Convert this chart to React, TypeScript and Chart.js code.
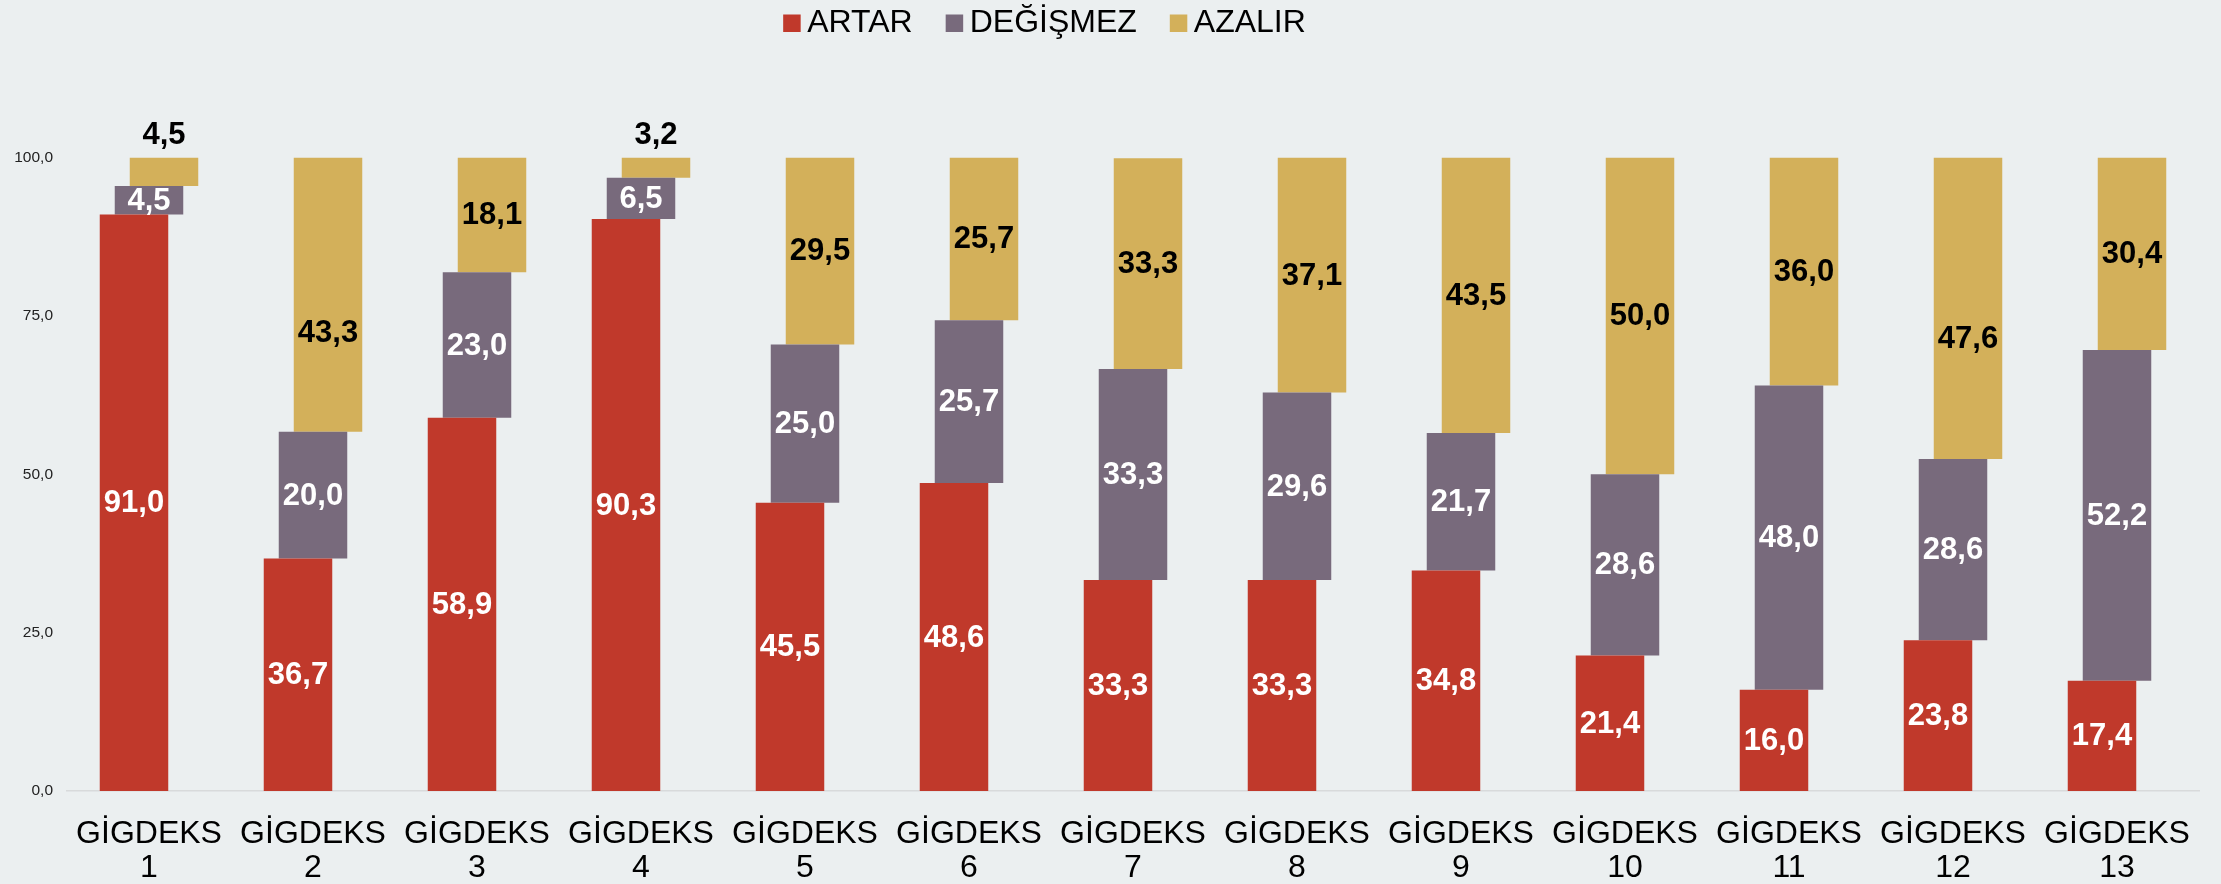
import React, { useEffect, useRef } from 'react';
import { Chart, registerables } from 'chart.js';

Chart.register(...registerables);

const categories = [
  'GİGDEKS 1', 'GİGDEKS 2', 'GİGDEKS 3', 'GİGDEKS 4', 'GİGDEKS 5', 'GİGDEKS 6', 'GİGDEKS 7',
  'GİGDEKS 8', 'GİGDEKS 9', 'GİGDEKS 10', 'GİGDEKS 11', 'GİGDEKS 12', 'GİGDEKS 13',
];
const artar = [91.0, 36.7, 58.9, 90.3, 45.5, 48.6, 33.3, 33.3, 34.8, 21.4, 16.0, 23.8, 17.4];
const degismez = [4.5, 20.0, 23.0, 6.5, 25.0, 25.7, 33.3, 29.6, 21.7, 28.6, 48.0, 28.6, 52.2];
const azalir = [4.5, 43.3, 18.1, 3.2, 29.5, 25.7, 33.3, 37.1, 43.5, 50.0, 36.0, 47.6, 30.4];
const seriesNames = ['ARTAR', 'DEĞİŞMEZ', 'AZALIR'];
const yTicks = [0, 25, 50, 75, 100];

// style: vertical nudge (px) of the AZALIR value labels, per category
const AZALIR_LABEL_NUDGE = [0, 38, 0, 0, 0, 0, 0, 0, 0, 0, 0, 30, 0];

const COLORS = ['#C0392B', '#786A7C', '#D3B05A'];
const LABEL_COLORS = ['#FFFFFF', '#FFFFFF', '#000000'];
const BG = '#EBEFF0';
const FONT = '"Liberation Sans", Arial, sans-serif';

const fmt = (v: number) => v.toFixed(1).replace('.', ',');

const bgPlugin = {
  id: 'bg',
  beforeDraw(chart: any) {
    const { ctx, width, height } = chart;
    ctx.save();
    ctx.fillStyle = BG;
    ctx.fillRect(0, 0, width, height);
    ctx.restore();
  },
};

const legendPlugin = {
  id: 'customLegend',
  afterDraw(chart: any) {
    const ctx = chart.ctx;
    ctx.save();
    ctx.font = `32px ${FONT}`;
    const box = 17.5;
    const gapBox = 6.5;
    const gapItem = 33;
    const items = chart.data.datasets.map((d: any) => ({
      label: d.label,
      color: d.backgroundColor,
      w: ctx.measureText(d.label).width,
    }));
    const total = items.reduce((s: number, it: any) => s + box + gapBox + it.w, 0) + gapItem * (items.length - 1);
    let x = 1044.5 - total / 2;
    const baseline = 32;
    items.forEach((it: any) => {
      ctx.fillStyle = it.color;
      ctx.fillRect(x, baseline - box, box, box);
      x += box + gapBox;
      ctx.fillStyle = '#000';
      ctx.textAlign = 'left';
      ctx.textBaseline = 'alphabetic';
      ctx.fillText(it.label, x, baseline);
      x += it.w + gapItem;
    });
    ctx.restore();
  },
};

const valueLists = [artar, degismez, azalir];

const labelPlugin = {
  id: 'barLabels',
  afterDatasetsDraw(chart: any) {
    const ctx = chart.ctx;
    ctx.save();
    ctx.font = `bold 31px ${FONT}`;
    ctx.textAlign = 'center';
    chart.data.datasets.forEach((ds: any, i: number) => {
      const meta = chart.getDatasetMeta(i);
      meta.data.forEach((el: any, j: number) => {
        const v = valueLists[i][j];
        const top = Math.min(el.y, el.base);
        const bottom = Math.max(el.y, el.base);
        ctx.fillStyle = LABEL_COLORS[i];
        if (ds.labelAboveIfSmall && bottom - top < 40) {
          ctx.fillStyle = '#000';
          ctx.textBaseline = 'alphabetic';
          ctx.fillText(fmt(v), el.x, top - 14);
        } else {
          const nudge = ds.labelAboveIfSmall ? AZALIR_LABEL_NUDGE[j] : 0;
          ctx.textBaseline = 'middle';
          ctx.fillText(fmt(v), el.x, (top + bottom) / 2 + 1 + nudge);
        }
      });
    });
    ctx.restore();
  },
};

export default function App() {
  const ref = useRef<HTMLCanvasElement>(null);

  useEffect(() => {
    if (!ref.current) return;
    const ranges0 = artar.map((v) => [0, v]);
    const ranges1 = artar.map((v, j) => [v, v + degismez[j]]);
    const ranges2 = artar.map((v, j) => [v + degismez[j], v + degismez[j] + azalir[j]]);
    const common = {
      categoryPercentage: 0.2744,
      barPercentage: 4.567,
      borderWidth: 0,
    };
    const chart = new Chart(ref.current, {
      type: 'bar',
      data: {
        labels: categories.map((c) => c.split(' ')),
        datasets: [
          { label: seriesNames[0], data: ranges0 as any, backgroundColor: COLORS[0], ...common },
          { label: seriesNames[1], data: ranges1 as any, backgroundColor: COLORS[1], ...common },
          { label: seriesNames[2], data: ranges2 as any, backgroundColor: COLORS[2], labelAboveIfSmall: true, ...common } as any,
        ],
      },
      options: {
        responsive: false,
        animation: false,
        devicePixelRatio: 1,
        layout: { padding: { top: 157.5, left: 0, right: 22, bottom: 0 } },
        plugins: {
          legend: { display: false },
          tooltip: { enabled: false },
        },
        scales: {
          x: {
            grid: { display: false },
            border: { display: true, color: '#D8DADB', width: 1.5 },
            ticks: {
              color: '#000',
              font: { family: FONT, size: 32, lineHeight: 1.07 },
              padding: 18,
              maxRotation: 0,
              autoSkip: false,
            },
            afterFit: (scale: any) => {
              scale.height = 93;
            },
          },
          y: {
            min: 0,
            max: 100,
            grid: { display: false, drawTicks: false },
            border: { display: false },
            ticks: {
              color: '#222',
              font: { family: FONT, size: 15.5 },
              padding: 14,
              callback: (v: any) => fmt(Number(v)),
            },
            afterBuildTicks: (scale: any) => {
              scale.ticks = yTicks.map((v) => ({ value: v }));
            },
            afterFit: (scale: any) => {
              scale.width = 67;
            },
          },
        },
      },
      plugins: [bgPlugin, labelPlugin, legendPlugin],
    });
    return () => chart.destroy();
  }, []);

  return (
    <div style={{ position: 'fixed', left: 0, top: 0, width: 2221, height: 884, background: BG }}>
      <canvas ref={ref} width={2221} height={884} style={{ display: 'block' }} />
    </div>
  );
}
